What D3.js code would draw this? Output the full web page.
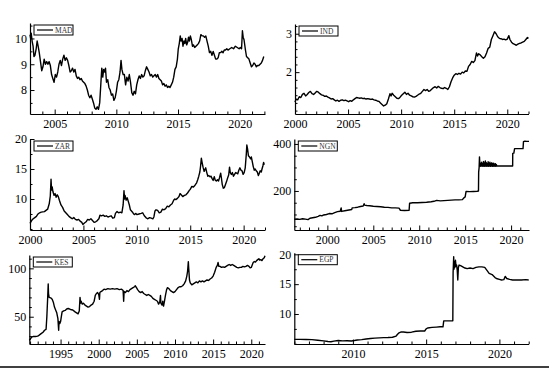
<!DOCTYPE html>
<html><head><meta charset="utf-8">
<script src="https://cdn.jsdelivr.net/npm/d3@7"></script>
<style>html,body{margin:0;padding:0;background:#fff;}svg{display:block;} svg text{font-family:"Liberation Serif","Times New Roman",Times,serif;}</style>
</head><body>
<svg id="chart" width="554" height="370"></svg>
<script>
// ---------------- data (decimal year, value) ----------------
const MAD = [[2003.00,10.15],[2003.05,10.0],[2003.10,10.2],[2003.17,9.9],[2003.25,9.7],[2003.32,9.3],[2003.40,9.35],[2003.50,9.6],[2003.58,9.9],[2003.66,9.7],[2003.75,9.45],[2003.85,9.1],[2003.95,8.75],[2004.05,8.9],[2004.15,9.2],[2004.25,9.0],[2004.35,9.1],[2004.45,9.0],[2004.55,9.1],[2004.65,8.95],[2004.75,8.6],[2004.85,8.45],[2004.95,8.3],[2005.05,8.6],[2005.15,8.5],[2005.25,8.7],[2005.35,9.0],[2005.45,9.15],[2005.55,8.95],[2005.65,9.2],[2005.75,9.35],[2005.85,9.15],[2005.95,9.25],[2006.05,9.15],[2006.15,8.95],[2006.25,8.7],[2006.35,8.75],[2006.45,8.85],[2006.55,8.7],[2006.65,8.8],[2006.75,8.55],[2006.85,8.45],[2006.95,8.5],[2007.05,8.4],[2007.15,8.45],[2007.25,8.35],[2007.35,8.3],[2007.45,8.25],[2007.55,8.15],[2007.65,8.0],[2007.75,7.8],[2007.85,7.7],[2007.95,7.8],[2008.05,7.65],[2008.15,7.5],[2008.25,7.3],[2008.35,7.25],[2008.45,7.35],[2008.55,7.25],[2008.65,7.5],[2008.75,8.3],[2008.82,8.85],[2008.90,8.5],[2008.97,8.8],[2009.05,8.7],[2009.12,8.85],[2009.20,8.3],[2009.30,8.4],[2009.40,8.1],[2009.50,8.0],[2009.60,7.8],[2009.70,7.85],[2009.80,7.6],[2009.90,7.7],[2010.00,7.95],[2010.10,8.3],[2010.20,8.4],[2010.30,8.7],[2010.38,9.15],[2010.45,8.8],[2010.55,8.6],[2010.65,8.6],[2010.75,8.2],[2010.85,8.5],[2010.95,8.35],[2011.05,8.6],[2011.15,8.3],[2011.25,7.9],[2011.35,7.8],[2011.45,7.95],[2011.55,7.85],[2011.65,8.2],[2011.75,8.4],[2011.85,8.55],[2011.95,8.45],[2012.05,8.6],[2012.15,8.5],[2012.25,8.55],[2012.35,8.75],[2012.45,8.9],[2012.55,8.8],[2012.65,8.7],[2012.75,8.55],[2012.85,8.6],[2012.95,8.5],[2013.05,8.55],[2013.15,8.6],[2013.25,8.5],[2013.35,8.6],[2013.45,8.45],[2013.55,8.4],[2013.65,8.35],[2013.75,8.2],[2013.85,8.25],[2013.95,8.15],[2014.05,8.2],[2014.15,8.1],[2014.25,8.15],[2014.35,8.1],[2014.45,8.2],[2014.55,8.3],[2014.65,8.5],[2014.75,8.8],[2014.85,8.9],[2014.95,9.2],[2015.02,9.6],[2015.10,9.8],[2015.18,10.1],[2015.25,9.9],[2015.33,10.0],[2015.40,9.7],[2015.48,9.9],[2015.55,9.8],[2015.62,10.0],[2015.70,9.75],[2015.78,9.85],[2015.85,10.05],[2015.92,9.9],[2016.00,10.1],[2016.08,9.95],[2016.17,9.7],[2016.25,9.75],[2016.35,9.65],[2016.45,9.7],[2016.55,9.75],[2016.65,9.8],[2016.75,9.9],[2016.85,10.15],[2016.95,10.1],[2017.05,10.1],[2017.15,10.05],[2017.25,10.1],[2017.35,9.9],[2017.45,9.7],[2017.55,9.45],[2017.65,9.5],[2017.75,9.35],[2017.85,9.5],[2017.95,9.35],[2018.05,9.2],[2018.15,9.2],[2018.25,9.25],[2018.35,9.45],[2018.45,9.45],[2018.55,9.5],[2018.65,9.45],[2018.75,9.55],[2018.85,9.55],[2018.95,9.6],[2019.05,9.55],[2019.20,9.6],[2019.35,9.65],[2019.50,9.6],[2019.65,9.7],[2019.80,9.65],[2019.95,9.6],[2020.05,9.65],[2020.15,9.6],[2020.22,10.3],[2020.28,10.05],[2020.35,9.95],[2020.45,9.6],[2020.55,9.3],[2020.65,9.25],[2020.75,9.2],[2020.85,9.05],[2020.95,8.9],[2021.05,8.95],[2021.15,9.05],[2021.25,9.0],[2021.35,8.9],[2021.45,8.95],[2021.55,8.95],[2021.65,9.0],[2021.75,9.05],[2021.85,9.15],[2021.95,9.3]];

const IND = [[2000.0,1.22],[2000.1,1.3],[2000.25,1.28],[2000.4,1.36],[2000.55,1.34],[2000.7,1.42],[2000.85,1.45],[2001.0,1.38],[2001.15,1.42],[2001.3,1.47],[2001.45,1.5],[2001.6,1.44],[2001.75,1.42],[2001.9,1.46],[2002.05,1.5],[2002.2,1.48],[2002.35,1.44],[2002.5,1.41],[2002.65,1.4],[2002.8,1.37],[2002.95,1.38],[2003.1,1.35],[2003.25,1.33],[2003.4,1.3],[2003.55,1.31],[2003.7,1.28],[2003.85,1.25],[2004.0,1.27],[2004.15,1.24],[2004.3,1.27],[2004.45,1.28],[2004.6,1.26],[2004.75,1.27],[2004.9,1.25],[2005.05,1.23],[2005.2,1.26],[2005.35,1.24],[2005.5,1.28],[2005.65,1.31],[2005.8,1.34],[2005.95,1.33],[2006.1,1.32],[2006.25,1.33],[2006.4,1.31],[2006.55,1.32],[2006.7,1.3],[2006.85,1.31],[2007.0,1.3],[2007.15,1.29],[2007.3,1.3],[2007.45,1.28],[2007.6,1.27],[2007.75,1.25],[2007.9,1.24],[2008.05,1.2],[2008.2,1.16],[2008.35,1.12],[2008.5,1.14],[2008.65,1.18],[2008.8,1.3],[2008.95,1.44],[2009.05,1.38],[2009.15,1.45],[2009.3,1.4],[2009.45,1.36],[2009.6,1.32],[2009.75,1.31],[2009.9,1.35],[2010.05,1.4],[2010.2,1.44],[2010.35,1.48],[2010.5,1.42],[2010.65,1.45],[2010.8,1.4],[2010.95,1.38],[2011.1,1.36],[2011.25,1.35],[2011.4,1.37],[2011.55,1.4],[2011.7,1.43],[2011.85,1.45],[2012.0,1.5],[2012.15,1.55],[2012.3,1.52],[2012.45,1.55],[2012.6,1.5],[2012.75,1.52],[2012.9,1.56],[2013.05,1.6],[2013.2,1.62],[2013.35,1.59],[2013.5,1.63],[2013.65,1.6],[2013.8,1.58],[2013.95,1.57],[2014.1,1.6],[2014.25,1.58],[2014.4,1.55],[2014.55,1.62],[2014.7,1.75],[2014.85,1.85],[2015.0,1.92],[2015.15,1.96],[2015.3,1.94],[2015.45,1.97],[2015.6,1.95],[2015.75,2.0],[2015.9,1.98],[2016.05,2.03],[2016.2,2.02],[2016.35,2.15],[2016.5,2.2],[2016.65,2.28],[2016.8,2.25],[2016.95,2.3],[2017.1,2.5],[2017.2,2.42],[2017.3,2.48],[2017.45,2.45],[2017.6,2.4],[2017.75,2.36],[2017.9,2.4],[2018.05,2.5],[2018.2,2.62],[2018.35,2.65],[2018.5,2.85],[2018.65,2.95],[2018.8,3.05],[2018.95,3.0],[2019.1,2.92],[2019.25,2.88],[2019.4,2.87],[2019.55,2.85],[2019.7,2.86],[2019.85,2.84],[2020.0,2.86],[2020.15,2.95],[2020.25,2.85],[2020.4,2.78],[2020.55,2.74],[2020.7,2.72],[2020.85,2.7],[2021.0,2.73],[2021.15,2.75],[2021.3,2.76],[2021.45,2.78],[2021.6,2.8],[2021.75,2.85],[2021.9,2.9],[2022.0,2.88]];

const ZAR = [[2000.0,5.95],[2000.15,6.4],[2000.3,6.7],[2000.45,6.9],[2000.6,7.1],[2000.75,7.5],[2000.9,7.7],[2001.05,7.8],[2001.2,7.85],[2001.35,7.9],[2001.5,8.1],[2001.65,8.3],[2001.8,9.2],[2001.9,10.5],[2001.97,13.3],[2002.02,11.5],[2002.08,12.0],[2002.15,11.2],[2002.25,10.6],[2002.35,10.9],[2002.45,10.3],[2002.55,10.7],[2002.65,10.4],[2002.75,9.8],[2002.9,9.0],[2003.05,8.6],[2003.2,8.0],[2003.35,7.7],[2003.5,7.4],[2003.65,7.1],[2003.8,6.9],[2003.95,6.7],[2004.1,6.9],[2004.25,6.6],[2004.4,6.5],[2004.55,6.6],[2004.7,6.3],[2004.85,6.1],[2004.95,5.75],[2005.1,6.0],[2005.25,6.2],[2005.4,6.6],[2005.55,6.5],[2005.7,6.7],[2005.85,6.4],[2006.0,6.1],[2006.15,6.2],[2006.3,6.4],[2006.45,6.7],[2006.55,7.3],[2006.7,7.2],[2006.85,7.3],[2007.0,7.1],[2007.15,7.2],[2007.3,7.0],[2007.45,7.1],[2007.6,7.2],[2007.75,6.8],[2007.9,6.9],[2008.0,7.6],[2008.15,7.9],[2008.3,7.7],[2008.45,7.8],[2008.6,7.7],[2008.72,9.0],[2008.8,11.4],[2008.85,10.0],[2008.9,10.6],[2009.0,9.8],[2009.1,10.2],[2009.2,9.6],[2009.3,9.0],[2009.4,8.2],[2009.5,8.0],[2009.6,7.8],[2009.7,7.5],[2009.8,7.4],[2009.9,7.6],[2010.0,7.4],[2010.2,7.5],[2010.4,7.6],[2010.55,7.7],[2010.7,7.2],[2010.85,6.9],[2011.0,6.7],[2011.2,6.9],[2011.35,6.8],[2011.5,6.7],[2011.6,7.0],[2011.7,8.0],[2011.8,8.2],[2011.95,8.1],[2012.1,7.7],[2012.25,7.8],[2012.4,8.3],[2012.55,8.2],[2012.7,8.4],[2012.85,8.8],[2013.0,8.7],[2013.15,9.0],[2013.3,9.2],[2013.45,9.8],[2013.55,10.0],[2013.65,9.9],[2013.8,10.1],[2013.95,10.4],[2014.05,10.9],[2014.15,10.7],[2014.3,10.4],[2014.45,10.6],[2014.6,10.7],[2014.75,11.0],[2014.9,11.4],[2015.0,11.6],[2015.15,12.1],[2015.3,12.0],[2015.45,12.3],[2015.6,12.7],[2015.7,13.2],[2015.8,13.8],[2015.9,14.5],[2015.97,15.5],[2016.04,16.8],[2016.1,16.2],[2016.2,15.3],[2016.3,14.6],[2016.45,15.2],[2016.55,14.4],[2016.65,13.8],[2016.75,13.9],[2016.85,13.7],[2016.95,13.8],[2017.05,13.4],[2017.15,13.1],[2017.25,13.7],[2017.35,13.1],[2017.45,13.0],[2017.55,13.2],[2017.65,13.0],[2017.75,13.6],[2017.85,14.3],[2017.92,13.5],[2018.0,12.4],[2018.1,11.8],[2018.2,11.9],[2018.3,12.4],[2018.4,12.9],[2018.5,13.5],[2018.6,14.0],[2018.68,15.3],[2018.75,14.4],[2018.85,14.1],[2018.95,14.4],[2019.05,13.8],[2019.15,14.1],[2019.25,14.4],[2019.35,14.3],[2019.45,14.2],[2019.55,14.8],[2019.65,15.2],[2019.75,14.8],[2019.85,14.7],[2019.95,14.1],[2020.05,14.4],[2020.15,15.2],[2020.25,17.5],[2020.3,19.0],[2020.37,18.3],[2020.45,17.2],[2020.55,17.0],[2020.65,16.7],[2020.72,17.0],[2020.8,16.3],[2020.9,15.4],[2021.0,14.8],[2021.08,15.0],[2021.18,14.7],[2021.28,14.5],[2021.38,13.9],[2021.45,14.2],[2021.55,14.7],[2021.65,14.5],[2021.72,15.0],[2021.8,15.5],[2021.87,16.1],[2021.93,15.7]];

const NGN = [[1996.4,80],[1996.7,81],[1997.0,79],[1997.3,82],[1997.6,80],[1997.9,78],[1998.1,84],[1998.4,86],[1998.7,88],[1999.0,92],[1999.2,96],[1999.4,94],[1999.6,98],[1999.9,100],[2000.2,104],[2000.5,103],[2000.8,108],[2001.1,112],[2001.4,114],[2001.5,128],[2001.55,113],[2001.9,116],[2002.2,118],[2002.5,120],[2002.65,121],[2002.7,128],[2003.0,129],[2003.3,131],[2003.6,134],[2003.9,136],[2004.0,146],[2004.05,140],[2004.3,138],[2004.6,137],[2005.0,135],[2005.4,134],[2005.8,133],[2006.2,131],[2006.6,130],[2007.0,128],[2007.4,128],[2007.8,127],[2007.95,118],[2008.4,117],[2008.9,118],[2008.95,148],[2009.3,150],[2009.8,150],[2010.3,151],[2010.8,152],[2011.3,154],[2011.6,156],[2011.9,160],[2012.3,158],[2012.7,159],[2013.1,160],[2013.5,161],[2013.9,162],[2014.3,162],[2014.7,163],[2014.85,170],[2015.0,175],[2015.1,198],[2015.5,197],[2015.9,198],[2016.3,199],[2016.45,200],[2016.47,280],[2016.52,300],[2016.56,345],[2016.6,310],[2016.65,305],[2016.7,318],[2016.75,306],[2016.8,322],[2016.85,306],[2016.9,315],[2016.95,305],[2017.0,325],[2017.05,306],[2017.1,318],[2017.15,305],[2017.2,328],[2017.25,306],[2017.3,320],[2017.35,305],[2017.4,316],[2017.45,306],[2017.5,324],[2017.55,305],[2017.6,318],[2017.65,306],[2017.7,322],[2017.75,305],[2017.8,315],[2017.85,306],[2017.9,320],[2017.95,305],[2018.0,316],[2018.05,306],[2018.1,318],[2018.15,305],[2018.2,314],[2018.25,306],[2018.3,316],[2018.35,305],[2018.4,312],[2018.45,306],[2019.0,306],[2019.5,306],[2020.1,306],[2020.17,306],[2020.18,360],[2020.3,361],[2020.38,380],[2020.8,380],[2021.3,380],[2021.35,410],[2021.5,412],[2021.7,411],[2021.95,411]];

const KES = [[1990.9,25.5],[1991.05,27],[1991.2,29],[1991.4,29.5],[1991.7,29.5],[1992.0,30],[1992.2,31],[1992.45,32.5],[1992.7,34],[1992.9,36],[1993.1,37],[1993.2,50],[1993.3,68],[1993.38,84],[1993.42,74],[1993.5,70],[1993.7,69.5],[1993.9,68],[1994.05,65],[1994.2,60],[1994.35,57],[1994.5,54],[1994.65,48],[1994.75,36],[1994.8,45],[1994.9,43],[1995.0,45],[1995.1,50],[1995.2,55],[1995.4,56],[1995.6,56.5],[1995.8,58],[1996.0,58.5],[1996.3,57.5],[1996.6,57],[1996.9,55],[1997.1,54],[1997.3,53],[1997.45,56],[1997.55,70],[1997.62,64],[1997.7,66],[1997.85,63],[1998.0,64],[1998.2,62],[1998.4,61],[1998.6,60],[1998.8,60.5],[1999.0,62],[1999.2,63],[1999.4,66],[1999.55,72],[1999.7,74],[1999.85,75],[2000.0,73],[2000.1,68],[2000.15,75],[2000.3,76],[2000.5,77],[2000.7,78.5],[2000.9,78],[2001.2,79],[2001.5,78.5],[2001.8,79],[2002.1,78.5],[2002.4,79],[2002.7,78],[2003.0,78.5],[2003.2,77],[2003.27,66],[2003.33,76],[2003.5,75],[2003.7,77],[2003.9,76],[2004.1,78],[2004.3,79],[2004.5,80],[2004.7,81],[2004.8,82],[2004.95,80],[2005.1,78],[2005.3,76],[2005.5,75],[2005.7,76],[2005.9,74],[2006.1,73],[2006.3,72],[2006.5,73],[2006.7,72],[2006.9,71],[2007.1,69],[2007.3,68],[2007.5,67],[2007.7,66],[2007.85,63],[2008.0,65],[2008.1,72],[2008.15,64],[2008.3,62],[2008.4,66],[2008.5,61],[2008.6,65],[2008.75,72],[2008.9,78],[2009.0,80],[2009.2,79],[2009.4,77],[2009.6,76],[2009.8,75],[2010.0,76],[2010.2,78],[2010.4,80],[2010.6,81],[2010.8,81],[2011.0,82],[2011.2,84],[2011.4,87],[2011.55,92],[2011.65,97],[2011.75,107],[2011.8,100],[2011.9,88],[2012.0,85],[2012.2,83],[2012.4,84],[2012.6,85],[2012.8,86],[2013.0,85],[2013.2,87],[2013.4,86],[2013.6,87],[2013.8,86],[2014.0,87],[2014.2,88],[2014.4,87.5],[2014.6,89],[2014.8,90],[2015.0,92],[2015.2,96],[2015.4,101],[2015.55,103],[2015.65,106],[2015.75,102],[2015.9,102],[2016.1,101],[2016.3,101.5],[2016.5,101],[2016.7,102],[2016.9,103],[2017.1,104],[2017.3,103],[2017.5,104],[2017.7,103],[2017.9,102],[2018.1,101],[2018.3,100.5],[2018.5,101],[2018.7,101],[2018.9,102],[2019.1,101.5],[2019.3,102],[2019.5,103],[2019.7,102],[2019.85,100.5],[2020.0,101],[2020.1,103],[2020.25,106],[2020.4,107],[2020.55,106.5],[2020.7,108],[2020.85,109],[2021.0,110],[2021.1,108.5],[2021.25,109],[2021.4,108],[2021.55,110],[2021.7,111],[2021.8,113]];

const EGP = [[2006.0,5.75],[2006.4,5.74],[2006.8,5.72],[2007.2,5.7],[2007.6,5.6],[2008.0,5.5],[2008.3,5.4],[2008.5,5.35],[2008.7,5.45],[2009.0,5.55],[2009.3,5.5],[2009.6,5.52],[2009.9,5.48],[2010.1,5.55],[2010.3,5.65],[2010.6,5.7],[2010.9,5.8],[2011.2,5.9],[2011.5,5.95],[2011.8,6.0],[2012.1,6.03],[2012.4,6.05],[2012.7,6.1],[2012.95,6.3],[2013.05,6.6],[2013.15,6.85],[2013.3,7.0],[2013.45,6.98],[2013.7,6.9],[2014.0,6.95],[2014.3,7.1],[2014.6,7.15],[2014.9,7.15],[2015.0,7.5],[2015.1,7.65],[2015.4,7.75],[2015.7,7.8],[2015.95,7.85],[2016.15,7.85],[2016.2,8.85],[2016.5,8.85],[2016.82,8.85],[2016.84,17.0],[2016.86,18.2],[2016.88,19.6],[2016.9,17.5],[2016.93,18.8],[2016.96,17.8],[2017.0,19.0],[2017.04,18.0],[2017.08,18.2],[2017.12,17.4],[2017.16,15.7],[2017.2,17.8],[2017.25,18.2],[2017.35,18.1],[2017.5,17.9],[2017.65,17.7],[2017.8,17.6],[2018.0,17.7],[2018.2,17.6],[2018.4,17.8],[2018.6,17.9],[2018.8,17.9],[2019.0,17.8],[2019.15,17.3],[2019.3,16.8],[2019.5,16.6],[2019.7,16.1],[2019.85,15.9],[2020.0,15.8],[2020.15,15.7],[2020.3,15.75],[2020.4,16.3],[2020.5,15.95],[2020.7,15.8],[2020.9,15.7],[2021.2,15.7],[2021.5,15.7],[2021.8,15.75],[2022.0,15.7]];

// tick labels
const madYTicks = [8, 9, 10];
const indYTicks = [2, 3];
const zarYTicks = [10, 15, 20];
const ngnYTicks = [200, 400];
const kesYTicks = [50, 100];
const egpYTicks = [10, 15, 20];
const madXTicks = [2005, 2010, 2015, 2020];
const indXTicks = [2000, 2005, 2010, 2015, 2020];
const zarXTicks = [2000, 2005, 2010, 2015, 2020];
const ngnXTicks = [2000, 2005, 2010, 2015, 2020];
const kesXTicks = [1995, 2000, 2005, 2010, 2015, 2020];
const egpXTicks = [2010, 2015, 2020];

// ---------------- layout ----------------
const panels = [
  {name:"MAD", data:MAD, x0:30, x1:265, yb:114, yt:23, xd:[2003.0,2022.05], yd:[7.07,10.6], yt_:madYTicks, ym:0.5, xt:madXTicks},
  {name:"IND", data:IND, x0:295, x1:528.5, yb:114, yt:24, xd:[2000,2022], yd:[0.911,3.253], yt_:indYTicks, ym:0.2, xt:indXTicks},
  {name:"ZAR", data:ZAR, x0:30, x1:265, yb:230, yt:139, xd:[2000,2022], yd:[4.83,20], yt_:zarYTicks, ym:2.5, xt:zarXTicks},
  {name:"NGN", data:NGN, x0:294.3, x1:529, yb:230, yt:139, xd:[1996.4,2021.95], yd:[34,421], yt_:ngnYTicks, ym:50, xt:ngnXTicks},
  {name:"KES", data:KES, x0:29.3, x1:265, yb:344, yt:255, xd:[1990.9,2021.8], yd:[21.8,113.8], yt_:kesYTicks, ym:10, xt:kesXTicks},
  {name:"EGP", data:EGP, x0:294.3, x1:528.7, yb:344, yt:252.7, xd:[2006.0,2022.0], yd:[4.97,20.27], yt_:egpYTicks, ym:2.5, xt:egpXTicks}
];

const svg = d3.select("#chart");
const FONT = '"Liberation Serif", "Times New Roman", Times, serif';

panels.forEach(p => {
  const x = d3.scaleLinear().domain(p.xd).range([p.x0, p.x1]);
  const y = d3.scaleLinear().domain(p.yd).range([p.yb, p.yt]);
  const g = svg.append("g");

  // minor ticks
  const xMinor = d3.range(Math.ceil(p.xd[0]), p.xd[1] + 1e-9, 1).filter(v => !p.xt.includes(v));
  const yMinor = d3.range(Math.ceil(p.yd[0] / p.ym) * p.ym, p.yd[1] + 1e-9, p.ym)
                   .filter(v => !p.yt_.some(t => Math.abs(t - v) < 1e-6));

  g.append("g").attr("transform", `translate(0,${p.yb})`)
    .call(d3.axisBottom(x).tickValues(xMinor).tickSize(-2.5).tickSizeOuter(0).tickFormat(""))
    .call(s => s.select(".domain").remove());
  g.append("g").attr("transform", `translate(${p.x0},0)`)
    .call(d3.axisLeft(y).tickValues(yMinor).tickSize(-2.5).tickSizeOuter(0).tickFormat(""))
    .call(s => s.select(".domain").remove());

  // major axes
  const gx = g.append("g").attr("transform", `translate(0,${p.yb})`)
    .call(d3.axisBottom(x).tickValues(p.xt).tickSize(-4.5).tickSizeOuter(0).tickPadding(3).tickFormat(d3.format("d")));
  const gy = g.append("g").attr("transform", `translate(${p.x0},0)`)
    .call(d3.axisLeft(y).tickValues(p.yt_).tickSize(-4.5).tickSizeOuter(0).tickPadding(3).tickFormat(d3.format("d")));
  [gx, gy].forEach(a => {
    a.attr("font-family", null);
    a.selectAll("text").style("font-family", FONT).style("font-size", "12px").attr("fill", "#000");
    a.select(".domain").attr("stroke", "#000").attr("stroke-width", 1.2);
  });
  gx.selectAll("text").attr("dy", "0.9em");
  g.selectAll(".tick line").attr("stroke", "#000").attr("stroke-width", 1);

  // series
  g.append("path").datum(p.data)
    .attr("fill", "none").attr("stroke", "#000").attr("stroke-width", 1.4)
    .attr("stroke-linejoin", "round")
    .attr("d", d3.line().x(d => x(d[0])).y(d => y(d[1])));

  // legend
  const lx = p.x0 + 4, ly = p.yt + 2;
  const lg = g.append("g");
  lg.append("rect").attr("x", lx).attr("y", ly).attr("width", 39).attr("height", 10)
    .attr("fill", "#fff").attr("stroke", "#000").attr("stroke-width", 1);
  lg.append("line").attr("x1", lx + 3).attr("x2", lx + 19).attr("y1", ly + 5).attr("y2", ly + 5)
    .attr("stroke", "#000").attr("stroke-width", 1.2);
  lg.append("text").attr("x", lx + 21).attr("y", ly + 7.5).text(p.name)
    .style("font-family", FONT).style("font-size", "7.5px").attr("fill", "#333");
});

// bottom separator
svg.append("line").attr("x1", 0).attr("x2", 549).attr("y1", 367).attr("y2", 367)
  .attr("stroke", "#000").attr("stroke-width", 1.5);
</script>
</body></html>
